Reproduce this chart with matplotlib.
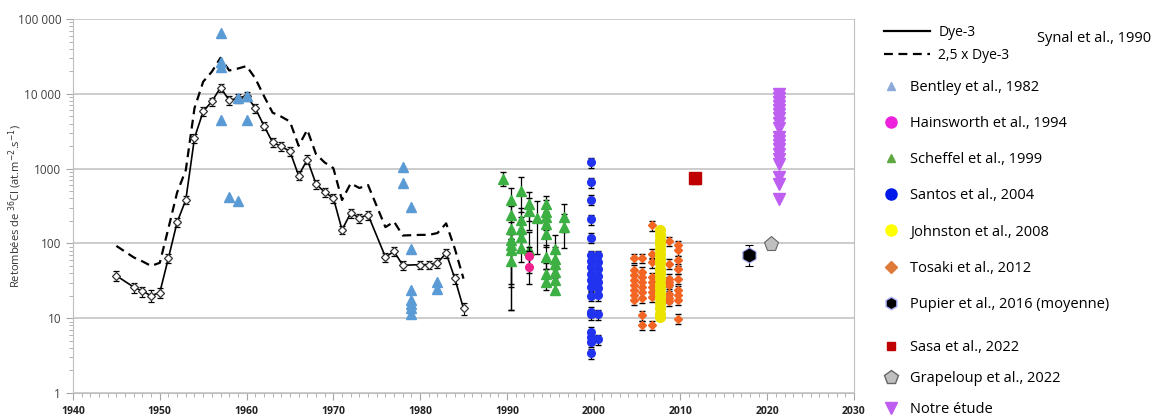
import matplotlib
matplotlib.use('Agg')
import matplotlib.pyplot as plt
from matplotlib.lines import Line2D
from matplotlib.ticker import LogLocator, NullFormatter, FixedLocator

# Dye-3 (Synal et al., 1990)
dye3_years = [1945, 1947, 1948, 1949, 1950, 1951, 1952, 1953, 1954, 1955, 1956, 1957,
              1958, 1959, 1960, 1961, 1962, 1963, 1964, 1965, 1966, 1967, 1968, 1969,
              1970, 1971, 1972, 1973, 1974, 1976, 1977, 1978, 1980, 1981, 1982, 1983,
              1984, 1985]
dye3_vals = [37, 26, 23, 20, 22, 64, 192, 382, 2570, 5800, 7900, 12100,
             8200, 8700, 9400, 6450, 3750, 2240, 1980, 1700, 807, 1320, 625, 483,
             406, 152, 254, 220, 241, 66, 78, 51, 52, 52, 55, 74,
             34, 13.5]
dye3_err = [6, 4, 3.5, 3.5, 3.5, 9, 25, 50, 350, 800, 1000, 1600,
            1100, 1200, 1300, 900, 500, 300, 270, 230, 110, 180, 85, 65,
            55, 20, 35, 30, 33, 9, 11, 7, 7, 7, 8, 10,
            5, 2.5]
dye3_factor = 2.5

# Bentley et al., 1982
bentley_years = [1957, 1957, 1957, 1957, 1958, 1959, 1959, 1960, 1960,
                 1978, 1978, 1979, 1979, 1979, 1979, 1979, 1979, 1979, 1982, 1982]
bentley_vals = [65600, 27000, 23100, 4500, 415, 366, 8700, 9400, 4500,
                1060, 637, 305, 85, 23.6, 17.7, 15.7, 13.5, 11.5, 30.5, 24.8]

# Scheffel et al., 1999 (value, lower bound, upper bound)
scheffel_years = [1989.5,
                  1990.5, 1990.5, 1990.5, 1990.5, 1990.5, 1990.5, 1990.5,
                  1991.6, 1991.6, 1991.6, 1991.6, 1991.6,
                  1992.5, 1992.5, 1992.5,
                  1993.5,
                  1994.5, 1994.5, 1994.5, 1994.5, 1994.5, 1994.5, 1994.5, 1994.5,
                  1995.5, 1995.5, 1995.5, 1995.5, 1995.5, 1995.5,
                  1996.6, 1996.6]
scheffel_vals = [728,
                 382, 241, 157, 112, 96, 81, 59,
                 498, 203, 157, 121, 88,
                 338, 267, 81,
                 220,
                 338, 260, 225, 183, 134, 66, 39.5, 30.5,
                 83, 62.6, 53.5, 41.5, 32, 24.1,
                 225, 166]
scheffel_lo = [582,
               192, 134, 115, 29, 26, 13, 13,
               260, 134, 110, 80, 56,
               200, 150, 40,
               73,
               260, 183, 150, 120, 90, 45, 28, 23.7,
               60, 45, 38, 30, 24, 22.5,
               140, 87.6]
scheffel_hi = [907,
               550, 320, 225, 157, 134, 115, 96,
               765, 300, 225, 192, 134,
               480, 400, 140,
               365,
               426, 380, 320, 260, 200, 95, 55, 45,
               128, 90, 75, 58, 45, 34,
               338, 250]

# Hainsworth et al., 1994
hains_years = [1992.5, 1992.5]
hains_vals = [67, 49]
hains_lo = [50, 29]
hains_hi = [90, 80]

# Santos et al., 2004
santos_years = [1999.7] * 18 + [2000.5] * 9
santos_vals = [1213, 657, 382, 209, 119, 69, 58, 48, 39, 32, 26, 20, 12.1, 11.3, 6.6, 5.6, 4.8, 3.4,
               69, 56, 46, 37, 30.5, 25, 20.2, 11.3, 5.2]
santos_rel_err = 0.15

# Johnston et al., 2008
johnston_years = [2007.7] * 19
johnston_vals = [150, 130, 112, 97, 84, 72, 62, 54, 46, 40, 34, 29, 25, 21.5, 18.5, 16, 13.5, 11.5, 10.5]

# Tosaki et al., 2012
tosaki_years = [2004.6] * 8 + [2005.6] * 9 + [2006.7] * 9 + [2008.7] * 8 + [2009.7] * 9
tosaki_vals = [63.5, 44.6, 37.4, 32, 27.5, 23.6, 20.2, 17.4,
               63.5, 41.5, 35.5, 30.5, 26.1, 22.4, 18.8, 10.9, 8.1,
               174, 73, 56, 35.5, 30.5, 26, 22.4, 19.2, 8.1,
               107, 53.5, 33.8, 30.5, 27.5, 21.3, 18.8, 17,
               94, 81, 59.4, 46, 33.8, 23.7, 20.2, 17.7, 9.9]
tosaki_rel_err = 0.15

# Pupier et al., 2016 (moyenne)
pupier_year = [2017.9]
pupier_val = [71]
pupier_lo = [49.7]
pupier_hi = [96]

# Sasa et al., 2022
sasa_year = [2011.7]
sasa_val = [743]
sasa_lo = [620]
sasa_hi = [880]

# Grapeloup et al., 2022
grapeloup_year = [2020.4]
grapeloup_val = [99]

# Notre etude
notre_years = [2021.3] * 19
notre_vals = [10000, 8850, 7820, 6920, 6120, 5410, 4790, 4100, 3520,
              2670, 2360, 2090, 1850, 1585, 1360, 1166, 782, 631, 398]

year_ticks = list(range(1940, 2031, 10))
y_ticks = [1, 10, 100, 1000, 10000, 100000]
y_tick_labels = ['1', '10', '100', '1000', '10 000', '100 000']

c_bentley = '#5b9bd5'
c_scheffel = '#3cb043'
c_hains = '#f0208c'
c_santos = '#2233f0'
c_johnston = '#ece300'
c_tosaki = '#f26522'
c_sasa = '#c00000'
c_grape = '#bfbfbf'
c_notre = '#bf5ff2'

plt.rcParams['font.family'] = ['Open Sans', 'DejaVu Sans']

fig = plt.figure(figsize=(11.69, 4.18), dpi=100)
ax = fig.add_axes([73 / 1169, 25 / 418, (854 - 73) / 1169, (393 - 19) / 418])

ax.set_yscale('log')
ax.set_ylim(1, 100000)
ax.set_xlim(1940, 2030)


def bounds_err(vals, lo, hi):
    return [[v - l for v, l in zip(vals, lo)], [h - v for v, h in zip(vals, hi)]]


# Dye-3 and 2.5 x Dye-3
ax.plot(dye3_years, [dye3_factor * v for v in dye3_vals], color='black', lw=1.6,
        ls=(0, (4, 2.5)), zorder=3)
ax.errorbar(dye3_years, dye3_vals, yerr=dye3_err, color='black', lw=1.2,
            marker='D', ms=4.5, mfc='white', mec='#333333', mew=0.9,
            ecolor='black', elinewidth=0.8, capsize=2.5, zorder=4)

# Bentley
ax.plot(bentley_years, bentley_vals, ls='none', marker='^', ms=6.5, color=c_bentley,
        mec=c_bentley, zorder=5)

# Scheffel
ax.errorbar(scheffel_years, scheffel_vals, yerr=bounds_err(scheffel_vals, scheffel_lo, scheffel_hi),
            ls='none', marker='^', ms=6.5, color=c_scheffel, mec=c_scheffel,
            ecolor='black', elinewidth=0.9, capsize=2.5, zorder=5)

# Hainsworth
ax.errorbar(hains_years, hains_vals, yerr=bounds_err(hains_vals, hains_lo, hains_hi),
            ls='none', marker='o', ms=5.5, color=c_hains, mec=c_hains,
            ecolor='black', elinewidth=0.9, capsize=2.5, zorder=6)

# Santos
ax.errorbar(santos_years, santos_vals, yerr=[v * santos_rel_err for v in santos_vals],
            ls='none', marker='o', ms=5.5, color=c_santos, mec=c_santos,
            ecolor='black', elinewidth=0.8, capsize=2.2, zorder=5)

# Tosaki
ax.errorbar(tosaki_years, tosaki_vals, yerr=[v * tosaki_rel_err for v in tosaki_vals],
            ls='none', marker='D', ms=4.5, color=c_tosaki, mec=c_tosaki,
            ecolor='black', elinewidth=0.8, capsize=2.2, zorder=5)

# Johnston
ax.errorbar(johnston_years, johnston_vals, yerr=[v * 0.1 for v in johnston_vals],
            ls='none', marker='o', ms=7, color=c_johnston, mec=c_johnston,
            ecolor='black', elinewidth=0.8, capsize=2.2, zorder=5)

# Sasa
ax.errorbar(sasa_year, sasa_val, yerr=bounds_err(sasa_val, sasa_lo, sasa_hi),
            ls='none', marker='s', ms=8, color=c_sasa, mec=c_sasa,
            ecolor='#555555', elinewidth=0.8, capsize=3, zorder=5)

# Pupier
ax.errorbar(pupier_year, pupier_val, yerr=bounds_err(pupier_val, pupier_lo, pupier_hi),
            ls='none', marker='h', ms=11, mfc='black', mec='#b0b4ff', mew=0.8,
            ecolor='black', elinewidth=0.8, capsize=3, zorder=5)

# Grapeloup
ax.plot(grapeloup_year, grapeloup_val, ls='none', marker='p', ms=11, mfc=c_grape,
        mec='#666666', mew=0.8, zorder=5)

# Notre etude
ax.plot(notre_years, notre_vals, ls='none', marker='v', ms=8, color=c_notre,
        mec=c_notre, zorder=5)

# axes styling
ax.yaxis.set_major_locator(FixedLocator(y_ticks))
ax.set_yticklabels(y_tick_labels)
ax.yaxis.set_minor_locator(LogLocator(base=10, subs=range(2, 10)))
ax.yaxis.set_minor_formatter(NullFormatter())
ax.set_xticks(year_ticks)
ax.set_xticklabels([str(y) for y in year_ticks], fontweight='bold')
ax.set_xticks(range(1940, 2031), minor=True)
ax.grid(axis='y', which='major', color='#bfbfbf', lw=1.1, zorder=0)
ax.set_axisbelow(True)
ax.tick_params(axis='both', which='both', direction='out', color='#a6a6a6')
ax.tick_params(axis='y', which='major', length=5, labelsize=8.5, labelcolor='#404040')
ax.tick_params(axis='y', which='minor', length=3)
ax.tick_params(axis='x', which='major', length=5, labelsize=7.5, labelcolor='#222222', pad=4)
ax.tick_params(axis='x', which='minor', length=3)
for s in ['left', 'bottom', 'right']:
    ax.spines[s].set_color('#bfbfbf')
ax.spines['top'].set_visible(False)
ax.set_ylabel(r'Retombées de $^{36}$Cl (at.m$^{-2}$.s$^{-1}$)', fontsize=8,
              color='#333333')
ax.yaxis.set_label_coords(-49 / 781, 0.5)

# legends
h_lines = [Line2D([], [], color='black', lw=1.6),
           Line2D([], [], color='black', lw=1.6, ls=(0, (4, 2.5)))]
leg1 = fig.legend(h_lines, ['Dye-3', '2,5 x Dye-3'], loc='upper left',
                  bbox_to_anchor=(884 / 1169, 1 - 25 / 418), frameon=False,
                  fontsize=10, handlelength=3.3, handletextpad=0.6,
                  labelspacing=0.55, borderpad=0, borderaxespad=0)
fig.text(1037 / 1169, 1 - 39 / 418, 'Synal et al., 1990', fontsize=10.5,
         va='center', ha='left')

h_mid = [Line2D([], [], ls='none', marker='^', ms=6, color='#8eaadb'),
         Line2D([], [], ls='none', marker='o', ms=8, color='#ee22dd'),
         Line2D([], [], ls='none', marker='^', ms=6, color='#5fa83f'),
         Line2D([], [], ls='none', marker='o', ms=8, color='#0018e8'),
         Line2D([], [], ls='none', marker='o', ms=8, color='#ffff00'),
         Line2D([], [], ls='none', marker='D', ms=6, color='#e07a3a'),
         Line2D([], [], ls='none', marker='h', ms=9, mfc='black', mec='#b0b4ff')]
l_mid = ['Bentley et al., 1982', 'Hainsworth et al., 1994', 'Scheffel et al., 1999',
         'Santos et al., 2004', 'Johnston et al., 2008', 'Tosaki et al., 2012',
         'Pupier et al., 2016 (moyenne)']
leg2 = fig.legend(h_mid, l_mid, loc='upper left', bbox_to_anchor=(884 / 1169, 1 - 80 / 418),
                  frameon=False, fontsize=10.5, handlelength=1.0, handletextpad=0.8,
                  labelspacing=1.45, borderpad=0, borderaxespad=0)

h_low = [Line2D([], [], ls='none', marker='s', ms=6, color=c_sasa),
         Line2D([], [], ls='none', marker='p', ms=10, mfc=c_grape, mec='#666666'),
         Line2D([], [], ls='none', marker='v', ms=8, color=c_notre)]
l_low = ['Sasa et al., 2022', 'Grapeloup et al., 2022', 'Notre étude']
leg3 = fig.legend(h_low, l_low, loc='upper left', bbox_to_anchor=(884 / 1169, 1 - 340 / 418),
                  frameon=False, fontsize=10.5, handlelength=1.0, handletextpad=0.8,
                  labelspacing=1.1, borderpad=0, borderaxespad=0)

fig.savefig('out.png', dpi=100)
